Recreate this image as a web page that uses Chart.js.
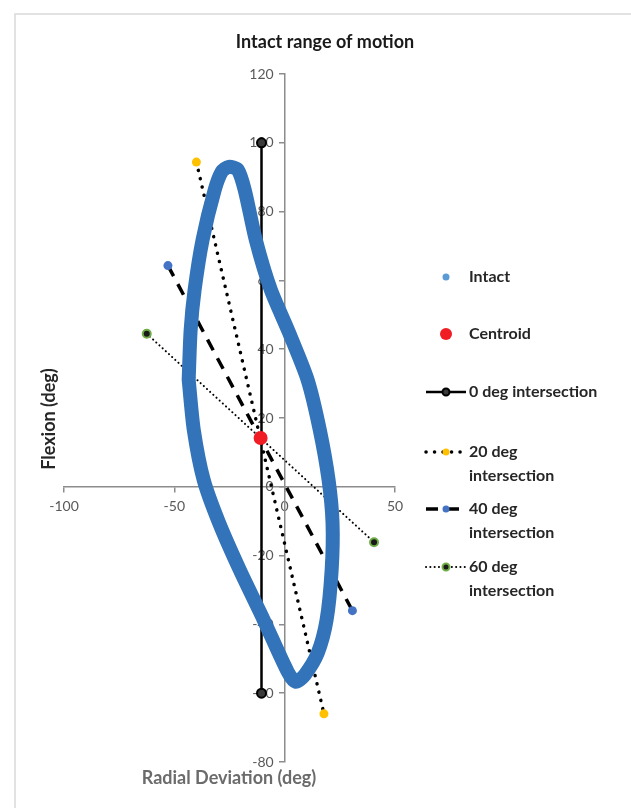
<!DOCTYPE html>
<html>
<head>
<meta charset="utf-8">
<title>Intact range of motion</title>
<script src="https://cdn.jsdelivr.net/npm/chart.js@4.4.1/dist/chart.umd.min.js"></script>
<style>
  html, body { margin: 0; padding: 0; background: #fff; }
  #wrap { position: relative; width: 631px; height: 808px; }
</style>
</head>
<body>
<div id="wrap"><canvas id="chart"></canvas></div>
<script>
// intact loop, traced along the middle of the blue band (deg)
const intactX = [-43.5, -42.6, -40.8, -37.2, -31.7, -28.5, -25.4, -21.3, -18.1, -13.1, -6.3, 1.8, 10.4, 15.9,
  19.9, 21.7, 21.3, 19.0, 15.0, 9.1, 5.0, 1.4, -9.5, -20.4, -29.9, -36.7, -41.2, -43.5];
const intactY = [31.1, 45.6, 57.3, 71.8, 86.3, 91.6, 93.0, 92.2, 86.3, 71.8, 57.3, 45.1, 31.1, 16.6,
  2.0, -10.5, -24.1, -38.7, -48.3, -54.7, -56.7, -53.8, -38.7, -24.1, -10.2, 2.0, 16.6, 31.1];

const centroidX = [-10.9];
const centroidY = [14.2];

// intersection lines, two end points each
const line0X = [-10.5, -10.5];
const line0Y = [100, -60];
const line20X = [-40.0, 17.8];
const line20Y = [94.4, -66.0];
const line40X = [-52.9, 30.7];
const line40Y = [64.3, -36.0];
const line60X = [-62.5, 40.5];
const line60Y = [44.5, -16.1];

const xTicks = [-100, -50, 0, 50];
const yTicks = [-80, -60, -40, -20, 0, 20, 40, 60, 80, 100, 120];

const legendText = [
  ['Intact'],
  ['Centroid'],
  ['0 deg intersection'],
  ['20 deg', 'intersection'],
  ['40 deg', 'intersection'],
  ['60 deg', 'intersection']
];

const pts = (xs, ys) => xs.map((x, i) => ({ x: x, y: ys[i] }));

// linear scale whose y labels sit left of a crossing axis, like the x labels do below theirs
class CrossLinearScale extends Chart.LinearScale {
  _computeLabelItems(chartArea) {
    const items = super._computeLabelItems(chartArea);
    if (this.axis === 'y') {
      const shift = this.options.grid.tickLength + this.options.ticks.padding;
      items.forEach(item => { item.options.translation[0] -= shift; });
    }
    return items;
  }
}
CrossLinearScale.id = 'crossLinear';
CrossLinearScale.defaults = Chart.LinearScale.defaults;
Chart.register(CrossLinearScale);

const decor = {
  id: 'decor',
  beforeDraw(chart) {
    const ctx = chart.ctx;
    ctx.save();
    ctx.strokeStyle = '#d9d9d9';
    ctx.lineWidth = 1.5;
    ctx.beginPath();
    ctx.moveTo(15, 808);
    ctx.lineTo(15, 14);
    ctx.lineTo(631, 14);
    ctx.stroke();
    ctx.restore();
  },
  afterDraw(chart, args, opts) {
    const ctx = chart.ctx;
    ctx.save();
    ctx.textBaseline = 'middle';
    ctx.textAlign = 'center';
    ctx.font = 'bold 18px Lato';
    ctx.fillStyle = '#1a1a1a';
    ctx.fillText('Intact range of motion', 325, 42);

    ctx.fillStyle = '#6b6b6b';
    ctx.fillText('Radial Deviation (deg)', 229, 778);

    ctx.fillStyle = '#262626';
    ctx.translate(49, 419);
    ctx.rotate(-Math.PI / 2);
    ctx.fillText('Flexion (deg)', 0, 0);
    ctx.restore();

    // legend on the right
    ctx.save();
    ctx.textAlign = 'left';
    ctx.textBaseline = 'middle';
    ctx.font = 'bold 16px Lato';
    chart.data.datasets.forEach((ds, i) => {
      const y = opts.rows[i];
      if (ds.legendLine) {
        ctx.beginPath();
        ctx.setLineDash(ds.borderDash || []);
        ctx.lineCap = ds.borderCapStyle || 'butt';
        ctx.lineWidth = ds.borderWidth;
        ctx.strokeStyle = ds.borderColor;
        ctx.moveTo(opts.lineStart, y);
        ctx.lineTo(opts.lineEnd, y);
        ctx.stroke();
        ctx.setLineDash([]);
      }
      const r = ds.legendRadius || ds.pointRadius;
      ctx.beginPath();
      ctx.arc(opts.markerX, y, r, 0, Math.PI * 2);
      ctx.fillStyle = ds.legendColor || ds.pointBackgroundColor;
      ctx.fill();
      if (ds.pointBorderWidth) {
        ctx.lineWidth = ds.pointBorderWidth;
        ctx.strokeStyle = ds.pointBorderColor;
        ctx.stroke();
      }
      ctx.fillStyle = '#262626';
      legendText[i].forEach((t, k) => ctx.fillText(t, opts.textX, y + k * 23.5));
    });
    ctx.restore();
  }
};

new Chart(document.getElementById('chart'), {
  type: 'scatter',
  data: {
    datasets: [
      {
        label: 'Intact',
        data: pts(intactX, intactY),
        showLine: true,
        tension: 0.25,
        borderColor: '#3273b9',
        borderWidth: 14,
        borderJoinStyle: 'round',
        borderCapStyle: 'round',
        pointRadius: 0,
        legendRadius: 3.5,
        legendColor: '#5b9bd5'
      },
      {
        label: 'Centroid',
        data: pts(centroidX, centroidY),
        pointRadius: 7,
        pointBackgroundColor: '#f01d24',
        pointBorderColor: '#f01d24',
        pointBorderWidth: 0,
        legendRadius: 6
      },
      {
        label: '0 deg intersection',
        data: pts(line0X, line0Y),
        showLine: true,
        legendLine: true,
        borderColor: '#000000',
        borderWidth: 2.5,
        pointRadius: 4.5,
        pointBackgroundColor: '#3a3a3a',
        pointBorderColor: '#000000',
        pointBorderWidth: 2,
        legendRadius: 3.5
      },
      {
        label: '20 deg intersection',
        data: pts(line20X, line20Y),
        showLine: true,
        legendLine: true,
        borderColor: '#000000',
        borderWidth: 3.5,
        borderDash: [0.1, 8.4],
        borderCapStyle: 'round',
        pointRadius: 4.5,
        pointBackgroundColor: '#ffc000',
        pointBorderColor: '#ffc000',
        pointBorderWidth: 0,
        legendRadius: 3.5
      },
      {
        label: '40 deg intersection',
        data: pts(line40X, line40Y),
        showLine: true,
        legendLine: true,
        borderColor: '#000000',
        borderWidth: 3.5,
        borderDash: [12, 9],
        pointRadius: 4.5,
        pointBackgroundColor: '#4472c4',
        pointBorderColor: '#4472c4',
        pointBorderWidth: 0,
        legendRadius: 3.5
      },
      {
        label: '60 deg intersection',
        data: pts(line60X, line60Y),
        showLine: true,
        legendLine: true,
        borderColor: '#000000',
        borderWidth: 2,
        borderDash: [0.1, 4.2],
        borderCapStyle: 'round',
        pointRadius: 4,
        pointBackgroundColor: '#1a1a1a',
        pointBorderColor: '#70ad47',
        pointBorderWidth: 2,
        legendRadius: 3.5
      }
    ]
  },
  options: {
    responsive: true,
    maintainAspectRatio: false,
    animation: false,
    events: [],
    layout: { padding: { left: 64, right: 236, top: 74, bottom: 46 } },
    plugins: {
      legend: { display: false },
      tooltip: { enabled: false },
      title: { display: false },
      decor: {
        rows: [277, 334, 392, 452, 509, 567],
        markerX: 446,
        lineStart: 426,
        lineEnd: 466,
        textX: 469
      }
    },
    scales: {
      x: {
        type: 'crossLinear',
        min: -100,
        max: 50,
        position: { y: 0 },
        afterBuildTicks: (scale) => { scale.ticks = xTicks.map(v => ({ value: v })); },
        afterFit: (scale) => { scale.height = 0; },
        ticks: { color: '#595959', font: { family: 'Lato', size: 14 }, maxRotation: 0, padding: 6 },
        grid: { drawOnChartArea: false, drawTicks: true, tickLength: 5, color: '#8c8c8c', lineWidth: 1.5 },
        border: { color: '#8c8c8c', width: 1.5 }
      },
      y: {
        type: 'crossLinear',
        min: -80,
        max: 120,
        position: { x: 0 },
        afterBuildTicks: (scale) => { scale.ticks = yTicks.map(v => ({ value: v })); },
        afterFit: (scale) => { scale.width = 0; },
        ticks: { color: '#595959', font: { family: 'Lato', size: 14 }, padding: 6 },
        grid: { drawOnChartArea: false, drawTicks: true, tickLength: 5, color: '#8c8c8c', lineWidth: 1.5 },
        border: { color: '#8c8c8c', width: 1.5 }
      }
    }
  },
  plugins: [decor]
});
</script>
</body>
</html>
